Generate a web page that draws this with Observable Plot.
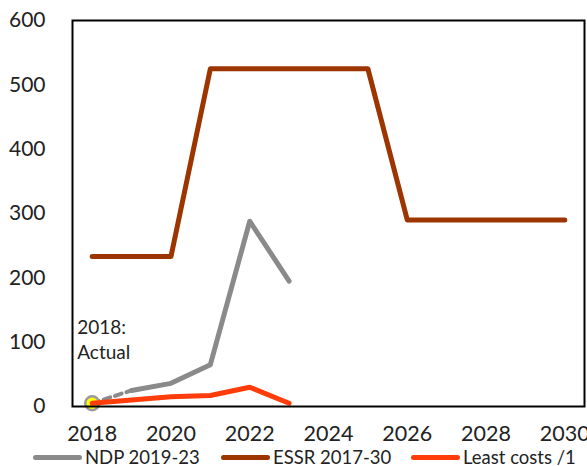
<!DOCTYPE html>
<html>
<head>
<meta charset="utf-8">
<script src="https://cdn.jsdelivr.net/npm/d3@7"></script>
<script src="https://cdn.jsdelivr.net/npm/@observablehq/plot@0.6"></script>
<style>
  html, body { margin: 0; padding: 0; background: #fff; overflow: hidden; }
  #chart { position: relative; width: 587px; height: 466px; font-family: Lato, "Open Sans", sans-serif; }
  #legend { position: absolute; left: 0; top: 446px; width: 587px; height: 40px; }
  .item { position: absolute; top: 0px; display: flex; align-items: center; font-size: 18.5px; color: #222; white-space: nowrap; }
  .sw { width: 49px; height: 5px; border-radius: 3px; margin-right: 3px; }
</style>
</head>
<body>
<div id="chart"><div id="legend"></div></div>
<script>
const years = [2018, 2019, 2020, 2021, 2022, 2023, 2024, 2025, 2026, 2027, 2028, 2029, 2030];
const essr = [233, 233, 233, 525, 525, 525, 525, 525, 290, 290, 290, 290, 290];
const ndpYears = [2019, 2020, 2021, 2022, 2023];
const ndp = [25, 36, 65, 288, 195];
const ndpLinkYears = [2018, 2019];
const ndpLink = [5, 25];
const leastYears = [2018, 2019, 2020, 2021, 2022, 2023];
const least = [5, 10, 15, 17, 30, 5];
const actualYear = [2018];
const actualValue = [5];
const xTicks = [2018, 2020, 2022, 2024, 2026, 2028, 2030];
const yTicks = [0, 100, 200, 300, 400, 500, 600];
const noteLines = ["2018:", "Actual"];
const noteX = [2017.62, 2017.62];
const noteY = [122, 84];
const seriesNames = ["NDP 2019-23", "ESSR 2017-30", "Least costs /1"];
const seriesColors = ["#8a8a8a", "#9c3500", "#ff3c0a"];

const essrData = years.map((y, i) => ({x: y, v: essr[i]}));
const ndpData = ndpYears.map((y, i) => ({x: y, v: ndp[i]}));
const linkData = ndpLinkYears.map((y, i) => ({x: y, v: ndpLink[i]}));
const leastData = leastYears.map((y, i) => ({x: y, v: least[i]}));
const actualData = actualYear.map((y, i) => ({x: y, v: actualValue[i]}));
const noteData = noteLines.map((t, i) => ({t, x: noteX[i], v: noteY[i]}));

const plot = Plot.plot({
  width: 587,
  height: 446,
  marginLeft: 72,
  marginRight: 3,
  marginTop: 20,
  marginBottom: 40,
  style: {fontFamily: "Lato, 'Open Sans', sans-serif", background: "#fff", color: "#222"},
  x: {domain: [2017.5, 2030.5], ticks: xTicks, tickFormat: d => String(d), label: null},
  y: {domain: [0, 600], ticks: yTicks, label: null},
  marks: [
    Plot.axisX({ticks: xTicks, tickFormat: d => String(d), tickSize: 0, tickPadding: 19, fontSize: 21.5, label: null}),
    Plot.axisY({ticks: yTicks, tickSize: 0, tickPadding: 27, fontSize: 21, label: null}),
    Plot.line(essrData, {x: "x", y: "v", stroke: seriesColors[1], strokeWidth: 5, strokeLinecap: "round", strokeLinejoin: "round"}),
    Plot.line(linkData, {x: "x", y: "v", stroke: seriesColors[0], strokeWidth: 4, strokeDasharray: "7,5"}),
    Plot.line(ndpData, {x: "x", y: "v", stroke: seriesColors[0], strokeWidth: 5, strokeLinecap: "round", strokeLinejoin: "round"}),
    Plot.dot(actualData, {x: "x", y: "v", r: 7, fill: "#ffff00", stroke: "#9a9a9a", strokeWidth: 2.5}),
    Plot.line(leastData, {x: "x", y: "v", stroke: seriesColors[2], strokeWidth: 5, strokeLinecap: "round", strokeLinejoin: "round"}),
    Plot.text(noteData, {x: "x", y: "v", text: "t", textAnchor: "start", fontSize: 19, fill: "#222"}),
    Plot.frame({stroke: "#000", strokeWidth: 2})
  ]
});
document.getElementById("chart").prepend(plot);

const legend = document.getElementById("legend");
const lefts = [33, 221, 411];
seriesNames.forEach((name, i) => {
  const item = document.createElement("div");
  item.className = "item";
  item.style.left = lefts[i] + "px";
  const sw = document.createElement("span");
  sw.className = "sw";
  sw.style.background = seriesColors[i];
  const label = document.createElement("span");
  label.textContent = name;
  item.append(sw, label);
  legend.append(item);
});
</script>
</body>
</html>
